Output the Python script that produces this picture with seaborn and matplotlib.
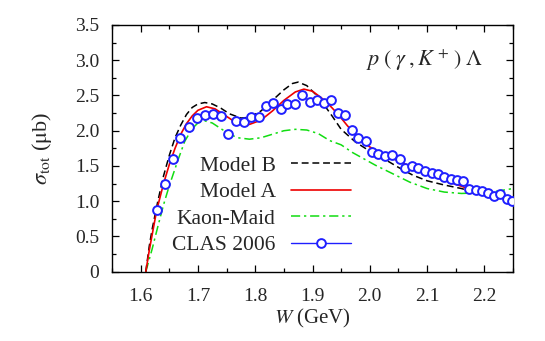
import numpy as np
import pandas as pd
import seaborn as sns
import matplotlib
matplotlib.use('Agg')
from matplotlib import pyplot as plt
from matplotlib.lines import Line2D
from matplotlib.ticker import MultipleLocator

# CLAS 2006 total cross section
clas_w = [1.628, 1.643, 1.657, 1.669, 1.684, 1.698, 1.713, 1.726, 1.740, 1.753,
          1.766, 1.780, 1.793, 1.806, 1.818, 1.831, 1.845, 1.856, 1.870, 1.882,
          1.895, 1.907, 1.920, 1.932, 1.944, 1.956, 1.969, 1.980, 1.993, 2.003,
          2.015, 2.027, 2.039, 2.052, 2.062, 2.074, 2.085, 2.096, 2.108, 2.119,
          2.130, 2.142, 2.152, 2.163, 2.173, 2.185, 2.196, 2.207, 2.217, 2.228,
          2.239, 2.249]
clas_sig = [0.87, 1.25, 1.60, 1.90, 2.05, 2.18, 2.23, 2.24, 2.21, 1.96,
            2.14, 2.12, 2.19, 2.20, 2.355, 2.40, 2.31, 2.375, 2.375, 2.51,
            2.41, 2.44, 2.40, 2.44, 2.25, 2.22, 2.01, 1.89, 1.86, 1.70,
            1.67, 1.645, 1.66, 1.60, 1.47, 1.50, 1.475, 1.43, 1.40, 1.385,
            1.35, 1.31, 1.295, 1.28, 1.17, 1.16, 1.14, 1.12, 1.08, 1.10,
            1.03, 1.005]

modelB_w = [1.609, 1.615, 1.62, 1.63, 1.64, 1.65, 1.66, 1.67, 1.68, 1.69, 1.70,
            1.712, 1.725, 1.74, 1.755, 1.775, 1.79, 1.81, 1.83, 1.85, 1.865,
            1.875, 1.89, 1.905, 1.92, 1.935, 1.95, 1.975, 2.00, 2.025, 2.05,
            2.075, 2.10, 2.13, 2.16, 2.19, 2.22, 2.25]
modelB_sig = [0.0, 0.36, 0.60, 1.00, 1.36, 1.65, 1.90, 2.08, 2.23, 2.33, 2.38,
              2.40, 2.38, 2.32, 2.24, 2.18, 2.19, 2.28, 2.43, 2.58, 2.67,
              2.69, 2.64, 2.52, 2.37, 2.20, 2.02, 1.84, 1.71, 1.60, 1.48,
              1.37, 1.29, 1.23, 1.18, 1.11, 1.06, 1.02]

modelA_w = [1.609, 1.615, 1.62, 1.628, 1.64, 1.65, 1.66, 1.67, 1.68, 1.69, 1.70,
            1.715, 1.73, 1.745, 1.76, 1.775, 1.79, 1.81, 1.83, 1.85, 1.87,
            1.885, 1.90, 1.915, 1.93, 1.945, 1.96, 1.975, 1.99, 2.00, 2.025,
            2.05, 2.075, 2.10, 2.125, 2.15, 2.175, 2.20, 2.225, 2.25]
modelA_sig = [0.0, 0.30, 0.52, 0.87, 1.25, 1.52, 1.75, 1.95, 2.10, 2.21, 2.29,
              2.34, 2.31, 2.23, 2.15, 2.10, 2.09, 2.15, 2.28, 2.43, 2.55,
              2.59, 2.56, 2.47, 2.36, 2.23, 2.08, 1.94, 1.83, 1.77, 1.66,
              1.57, 1.48, 1.39, 1.31, 1.24, 1.17, 1.11, 1.06, 1.01]

maid_w = [1.609, 1.62, 1.63, 1.64, 1.65, 1.665, 1.677, 1.69, 1.70, 1.712,
          1.725, 1.74, 1.755, 1.77, 1.79, 1.81, 1.83, 1.85, 1.87, 1.89, 1.91,
          1.93, 1.95, 1.97, 1.99, 2.01, 2.04, 2.07, 2.10, 2.13, 2.16, 2.19,
          2.22, 2.25]
maid_sig = [0.0, 0.32, 0.64, 0.95, 1.22, 1.58, 1.85, 2.03, 2.11, 2.14,
            2.11, 2.03, 1.95, 1.90, 1.88, 1.90, 1.95, 2.00, 2.02, 2.01, 1.96,
            1.86, 1.80, 1.69, 1.60, 1.51, 1.39, 1.27, 1.18, 1.13, 1.11, 1.12,
            1.14, 1.18]

x_ticks = [1.6, 1.7, 1.8, 1.9, 2.0, 2.1, 2.2]
x_labels = ['1.6', '1.7', '1.8', '1.9', '2.0', '2.1', '2.2']
y_ticks = [0, 0.5, 1.0, 1.5, 2.0, 2.5, 3.0, 3.5]
y_labels = ['0', '0.5', '1.0', '1.5', '2.0', '2.5', '3.0', '3.5']

sns.set_theme(style='ticks')
plt.rcParams['font.family'] = ['Liberation Serif', 'DejaVu Serif']
plt.rcParams['mathtext.fontset'] = 'stix'

fig = plt.figure(figsize=(5.45, 3.41), dpi=100)
ax = fig.add_axes([0.2055, 0.2032, 0.7358, 0.7235])

blue = '#1f1fff'
green = '#11dd11'
dashdot = (0, (6, 2.5, 1.5, 2.5))
dashed = (0, (4.5, 2.5))
sns.lineplot(ax=ax, x=maid_w, y=maid_sig, color=green, lw=1.1,
             linestyle=dashdot, sort=False)
sns.lineplot(ax=ax, x=modelB_w, y=modelB_sig, color='black', lw=1.1,
             linestyle=dashed, sort=False)
sns.lineplot(ax=ax, x=modelA_w, y=modelA_sig, color='#ee0000', lw=1.2, sort=False)
sns.scatterplot(ax=ax, x=clas_w, y=clas_sig, s=40, facecolor='white',
                edgecolor=blue, linewidth=1.4, zorder=5)

ax.set_xlim(1.55, 2.25)
ax.set_ylim(0, 3.5)
ax.set_xticks(x_ticks)
ax.set_xticklabels(x_labels)
ax.set_yticks(y_ticks)
ax.set_yticklabels(y_labels)
ax.xaxis.set_minor_locator(MultipleLocator(0.05))
ax.yaxis.set_minor_locator(MultipleLocator(0.25))
ax.tick_params(which='both', direction='in', top=True, right=True,
               labelsize=14, color='black', width=0.9)
ax.tick_params(which='major', length=5)
ax.tick_params(which='minor', length=2.7)
ax.tick_params(axis='x', which='major', pad=12)
ax.tick_params(axis='y', which='major', pad=9)
for sp in ax.spines.values():
    sp.set_linewidth(1.0)
    sp.set_color('black')

ax.set_xlabel(r'$W$ (GeV)', fontsize=15, labelpad=1)
ax.set_ylabel(r'$\sigma_{\rm tot}$ ($\mathrm{\mu}$b)', fontsize=16, labelpad=15)

ax.text(0.925, 0.855, r'$p\;(\;\gamma\;,K^+\,)\;\Lambda$', transform=ax.transAxes,
        ha='right', va='center', fontsize=16)

handles = [
    Line2D([], [], color='black', lw=1.1, linestyle=dashed),
    Line2D([], [], color='#ee0000', lw=1.2),
    Line2D([], [], color=green, lw=1.1, linestyle=dashdot),
    Line2D([], [], color=blue, lw=1.0, marker='o', mfc='white', mec=blue,
           mew=1.4, ms=6.3),
]
labels = ['Model B', 'Model A', 'Kaon-Maid', 'CLAS 2006']
ax.legend(handles, labels, loc='upper right', bbox_to_anchor=(0.596, 0.47),
          frameon=False, markerfirst=False, fontsize=15.5, handlelength=2.8,
          labelspacing=0.3, handletextpad=0.7, borderaxespad=0, borderpad=0)

fig.savefig('out.png', dpi=100)
